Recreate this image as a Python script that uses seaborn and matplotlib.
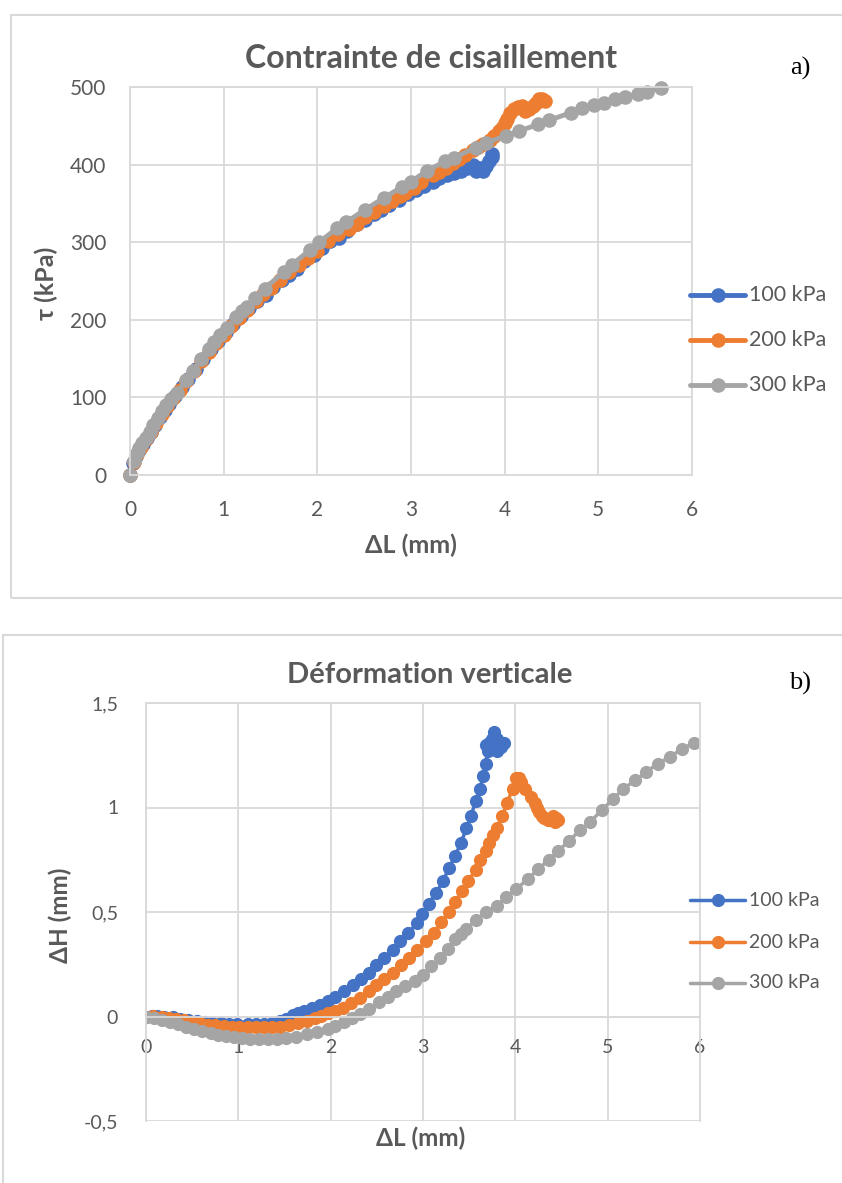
import numpy as np
import pandas as pd
import matplotlib
matplotlib.use("Agg")
import matplotlib.pyplot as plt
import seaborn as sns
from matplotlib.lines import Line2D
from matplotlib.patches import Rectangle

sns.set_theme(style="white")
plt.rcParams['font.family'] = ['Lato', 'DejaVu Sans']

series = ["100 kPa", "200 kPa", "300 kPa"]
colors = ["#4472C4", "#ED7D31", "#A5A5A5"]

# ---- Panel a) : shear stress tau (kPa) vs dL (mm)
a_x_100 = [0, 0.03, 0.06, 0.1, 0.14, 0.18, 0.22, 0.27, 0.32, 0.37, 0.42, 0.48, 0.55, 0.62, 0.7, 0.78,
           0.86, 0.94, 1.02, 1.1, 1.18, 1.27, 1.36, 1.45, 1.53, 1.62, 1.7, 1.78, 1.86, 1.96, 2.05, 2.14,
           2.23, 2.32, 2.42, 2.51, 2.6, 2.68, 2.77, 2.87, 2.97, 3.05, 3.14, 3.23, 3.3, 3.38, 3.46, 3.53,
           3.6, 3.66, 3.69, 3.73, 3.77, 3.8, 3.83, 3.86, 3.87]
a_y_100 = [0, 15, 24, 32, 40, 48, 56, 65, 75, 84, 92, 102, 113, 124, 137, 150,
           162, 173, 184, 195, 205, 215, 224, 232, 242, 251, 258, 266, 276, 283, 292, 301,
           306, 315, 323, 329, 336, 342, 348, 355, 362, 367, 373, 378, 383, 386, 389, 392,
           396, 399, 392, 395, 392, 398, 404, 410, 414]
a_x_200 = [0, 0.04, 0.08, 0.12, 0.17, 0.22, 0.28, 0.34, 0.4, 0.46, 0.53, 0.6, 0.68, 0.76, 0.84, 0.92,
           1.0, 1.08, 1.16, 1.25, 1.34, 1.42, 1.5, 1.6, 1.7, 1.8, 1.9, 2.0, 2.11, 2.22, 2.34, 2.42,
           2.51, 2.61, 2.71, 2.8, 2.88, 2.94, 3.03, 3.11, 3.23, 3.3, 3.37, 3.45, 3.51, 3.58, 3.66, 3.72,
           3.77, 3.84, 3.89, 3.94, 3.97, 4.0, 4.03, 4.06, 4.1, 4.14, 4.18, 4.22, 4.26, 4.3, 4.33, 4.37,
           4.4, 4.43]
a_y_200 = [0, 17, 27, 36, 46, 56, 67, 79, 89, 99, 110, 121, 134, 147, 159, 170,
           181, 192, 202, 213, 224, 233, 241, 251, 261, 271, 279, 289, 302, 310, 317, 324,
           332, 339, 347, 353, 359, 364, 370, 377, 387, 391, 395, 402, 407, 412, 419, 423,
           427, 432, 437, 443, 447, 453, 459, 466, 472, 474, 475, 469, 472, 476, 479, 484,
           485, 482]
a_x_300 = [0, 0.04, 0.07, 0.1, 0.13, 0.17, 0.21, 0.25, 0.3, 0.34, 0.38, 0.44, 0.5, 0.6, 0.67, 0.76,
           0.84, 0.9, 0.96, 1.04, 1.13, 1.2, 1.25, 1.33, 1.44, 1.64, 1.73, 1.92, 2.02, 2.21, 2.31, 2.51,
           2.71, 2.9, 3.0, 3.17, 3.36, 3.46, 3.69, 3.8, 4.01, 4.15, 4.36, 4.47, 4.71, 4.83, 4.95, 5.06,
           5.18, 5.29, 5.42, 5.52, 5.67]
a_y_300 = [0, 18, 28, 35, 41, 48, 56, 64, 74, 82, 90, 98, 106, 122, 134, 150,
           163, 172, 180, 190, 203, 211, 217, 228, 240, 262, 271, 290, 300, 318, 326, 342,
           357, 371, 378, 392, 404, 409, 422, 428, 437, 443, 452, 457, 467, 473, 477, 480,
           484, 487, 491, 494, 499]

# ---- Panel b) : vertical deformation dH (mm) vs dL (mm)
b_x_100 = [0, 0.06, 0.12, 0.2, 0.29, 0.37, 0.46, 0.55, 0.64, 0.72, 0.81, 0.9, 0.99, 1.1, 1.19, 1.28,
           1.37, 1.45, 1.52, 1.59, 1.65, 1.71, 1.8, 1.88, 1.97, 2.05, 2.14, 2.24, 2.33, 2.41, 2.49, 2.58,
           2.67, 2.75, 2.84, 2.93, 2.99, 3.06, 3.14, 3.22, 3.28, 3.35, 3.41, 3.47, 3.52, 3.57, 3.62, 3.65,
           3.68, 3.7, 3.68, 3.72, 3.75, 3.77, 3.8, 3.82, 3.8, 3.85, 3.88, 3.84]
b_y_100 = [0, 0.003, 0.003, 0.0, -0.004, -0.01, -0.016, -0.022, -0.028, -0.03, -0.032, -0.034, -0.036,
           -0.036, -0.036, -0.035, -0.03, -0.02, -0.01, 0.005, 0.015, 0.028, 0.04, 0.055, 0.075, 0.095,
           0.12, 0.15, 0.18, 0.21, 0.245, 0.28, 0.32, 0.36, 0.4, 0.445, 0.49, 0.54, 0.59, 0.65, 0.71,
           0.77, 0.83, 0.9, 0.96, 1.03, 1.09, 1.15, 1.21, 1.27, 1.30, 1.31, 1.33, 1.36, 1.33, 1.3, 1.27,
           1.29, 1.31, 1.30]
b_x_200 = [0, 0.08, 0.17, 0.25, 0.33, 0.41, 0.5, 0.58, 0.67, 0.75, 0.84, 0.93, 1.01, 1.1, 1.19, 1.28,
           1.37, 1.45, 1.55, 1.65, 1.74, 1.83, 1.9, 1.97, 2.05, 2.13, 2.22, 2.32, 2.41, 2.49, 2.58, 2.67,
           2.76, 2.85, 2.94, 3.03, 3.12, 3.2, 3.28, 3.35, 3.42, 3.49, 3.57, 3.62, 3.68, 3.72, 3.76, 3.8,
           3.86, 3.91, 3.97, 4.01, 4.04, 4.06, 4.11, 4.17, 4.21, 4.23, 4.26, 4.29, 4.31, 4.35, 4.38, 4.41,
           4.44, 4.46, 4.43]
b_y_200 = [0, 0.002, 0.0, -0.006, -0.012, -0.018, -0.026, -0.033, -0.039, -0.043, -0.046, -0.048, -0.05,
           -0.05, -0.05, -0.05, -0.05, -0.048, -0.042, -0.033, -0.022, -0.008, 0.003, 0.015, 0.028, 0.042,
           0.065, 0.09, 0.12, 0.15, 0.18, 0.21, 0.245, 0.28, 0.32, 0.36, 0.4, 0.45, 0.5, 0.55, 0.6, 0.65,
           0.7, 0.75, 0.79, 0.83, 0.87, 0.9, 0.96, 1.02, 1.09, 1.14, 1.14, 1.12, 1.09, 1.05, 1.02, 1.0,
           0.98, 0.96, 0.95, 0.94, 0.94, 0.96, 0.95, 0.94, 0.93]
b_x_300 = [0, 0.09, 0.17, 0.26, 0.35, 0.43, 0.52, 0.61, 0.7, 0.78, 0.87, 0.95, 1.04, 1.13, 1.22, 1.32,
           1.42, 1.52, 1.62, 1.74, 1.85, 1.97, 2.05, 2.14, 2.23, 2.32, 2.42, 2.52, 2.62, 2.71, 2.81, 2.91,
           3.0, 3.09, 3.18, 3.27, 3.35, 3.41, 3.47, 3.57, 3.68, 3.8, 3.9, 4.01, 4.14, 4.25, 4.36, 4.46,
           4.58, 4.7, 4.81, 4.94, 5.06, 5.17, 5.3, 5.42, 5.54, 5.67, 5.8, 5.94]
b_y_300 = [0, -0.008, -0.017, -0.028, -0.038, -0.049, -0.06, -0.069, -0.078, -0.087, -0.095, -0.1,
           -0.104, -0.106, -0.107, -0.107, -0.107, -0.104, -0.1, -0.086, -0.074, -0.06, -0.044, -0.026,
           -0.008, 0.01, 0.038, 0.07, 0.095, 0.12, 0.145, 0.17, 0.2, 0.24, 0.28, 0.325, 0.37, 0.395,
           0.42, 0.46, 0.5, 0.53, 0.57, 0.61, 0.66, 0.705, 0.75, 0.79, 0.84, 0.89, 0.93, 0.99, 1.04,
           1.09, 1.13, 1.17, 1.21, 1.24, 1.28, 1.31]


def make_df(xs, ys):
    frames = []
    for name, x, y in zip(series, xs, ys):
        frames.append(pd.DataFrame({"x": x, "y": y, "serie": name}))
    return pd.concat(frames, ignore_index=True)


df_a = make_df([a_x_100, a_x_200, a_x_300], [a_y_100, a_y_200, a_y_300])
df_b = make_df([b_x_100, b_x_200, b_x_300], [b_y_100, b_y_200, b_y_300])

W, H = 842, 1183
fig = plt.figure(figsize=(W / 100, H / 100), dpi=100)


def px_axes(l, t, r, b):
    return fig.add_axes([l / W, 1 - b / H, (r - l) / W, (b - t) / H])


grid_c = "#d9d9d9"
text_c = "#595959"

# panel frames
fig.add_artist(Rectangle((11 / W, 1 - 598 / H), (W + 5) / W, (598 - 15) / H,
                         transform=fig.transFigure, fill=False, edgecolor=grid_c, lw=1.5))
fig.add_artist(Rectangle((3 / W, 1 - (H + 10) / H), (W + 5) / W, (H + 10 - 635) / H,
                         transform=fig.transFigure, fill=False, edgecolor=grid_c, lw=1.5))


def style_axes(ax):
    ax.grid(True, color=grid_c, lw=1.3)
    ax.set_axisbelow(True)
    for s in ax.spines.values():
        s.set_color(grid_c)
        s.set_linewidth(1.3)


# ---- panel a
ax1 = px_axes(130, 87, 692, 475)
sns.lineplot(data=df_a, x="x", y="y", hue="serie", palette=colors, sort=False,
             estimator=None, units="serie", marker="o", markersize=10.5, markeredgewidth=0,
             linewidth=3.5, ax=ax1, legend=False)
for ln in ax1.lines:
    ln.set_clip_on(False)
ax1.set_xlim(0, 6)
ax1.set_ylim(0, 500)
ax1.set_xticks(range(0, 7))
ax1.set_yticks(range(0, 501, 100))
style_axes(ax1)
ax1.tick_params(axis="both", colors=grid_c, labelcolor=text_c, labelsize=15, length=5, width=1.3)
ax1.tick_params(axis="x", pad=13)
ax1.tick_params(axis="y", pad=12)
ax1.set_xlabel("ΔL (mm)", fontsize=18, fontweight="bold", color=text_c)
ax1.xaxis.set_label_coords((411 - 130) / 562, -(534 - 475) / 388)
ax1.set_ylabel("τ (kPa)", fontsize=18, fontweight="bold", color=text_c)
ax1.yaxis.set_label_coords(-(130 - 58) / 562, (475 - 283) / 388)
fig.text(431 / W, 1 - 58 / H, "Contrainte de cisaillement", ha="center", va="center",
         fontsize=23, fontweight="bold", color=text_c)
fig.text(800 / W, 1 - 68 / H, "a)", ha="center", va="center", fontsize=19,
         family="Liberation Serif", color="black")

# ---- panel b
ax2 = px_axes(146, 703, 700, 1121)
sns.lineplot(data=df_b, x="x", y="y", hue="serie", palette=colors, sort=False,
             estimator=None, units="serie", marker="o", markersize=9.5, markeredgewidth=0,
             linewidth=2.5, ax=ax2, legend=False)
ax2.set_xlim(0, 6)
ax2.set_ylim(-0.5, 1.5)
ax2.set_xticks(range(0, 7))
ax2.set_yticks([-0.5, 0, 0.5, 1, 1.5])
ax2.set_yticklabels(["-0,5", "0", "0,5", "1", "1,5"])
style_axes(ax2)
ax2.spines["bottom"].set_position(("data", 0))
ax2.tick_params(axis="both", colors=grid_c, labelcolor=text_c, labelsize=14, length=0)
ax2.tick_params(axis="x", pad=16)
ax2.tick_params(axis="y", pad=20)
ax2.set_xlabel("ΔL (mm)", fontsize=17.5, fontweight="bold", color=text_c)
ax2.xaxis.set_label_coords((421 - 146) / 554, -(1127 - 1121) / 418)
ax2.set_ylabel("ΔH (mm)", fontsize=17.5, fontweight="bold", color=text_c)
ax2.yaxis.set_label_coords(-(146 - 72) / 554, (1121 - 915) / 418)
fig.text(430 / W, 1 - 675 / H, "Déformation verticale", ha="center", va="center",
         fontsize=21, fontweight="bold", color=text_c)
fig.text(800 / W, 1 - 683 / H, "b)", ha="center", va="center", fontsize=19,
         family="Liberation Serif", color="black")


# ---- legends
def add_legend(ys_px, ms, lw, fs):
    for name, c, yp in zip(series, colors, ys_px):
        yy = 1 - yp / H
        fig.add_artist(Line2D([690 / W, 745 / W], [yy, yy], transform=fig.transFigure,
                              color=c, lw=lw))
        fig.add_artist(Line2D([718 / W], [yy], transform=fig.transFigure, color=c,
                              marker="o", markersize=ms, markeredgewidth=0, lw=0))
        fig.text(749 / W, yy, name, ha="left", va="center", fontsize=fs, color=text_c)


add_legend([295, 340, 385], 10.5, 3.5, 15.5)
add_legend([900, 942, 983], 9.5, 2.5, 14)

fig.savefig("out.png", dpi=100)
